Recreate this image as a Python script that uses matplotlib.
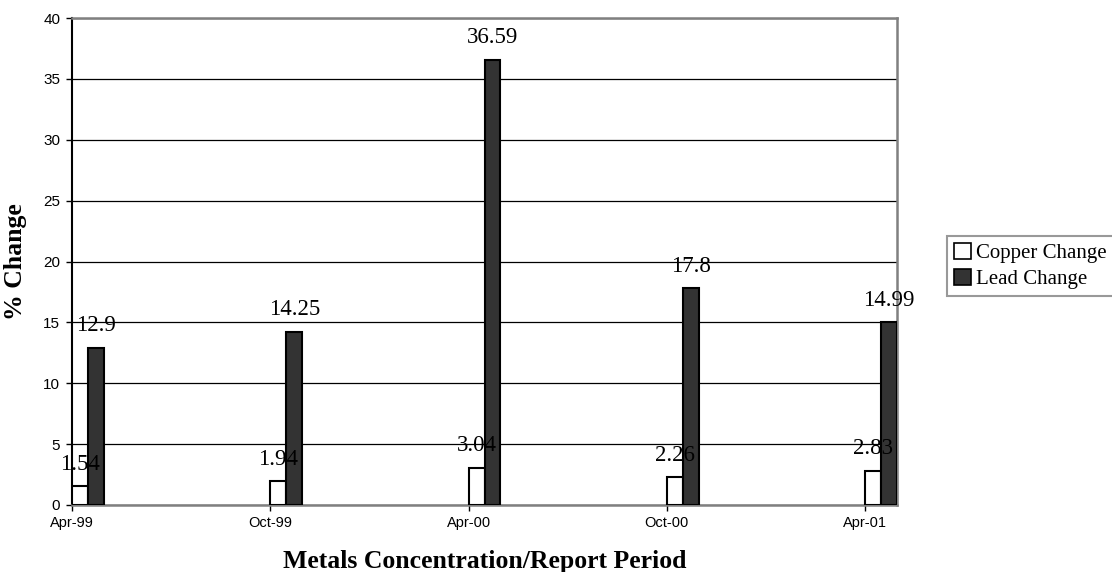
import numpy as np
import matplotlib
matplotlib.use('Agg')
import matplotlib.pyplot as plt
from matplotlib.patches import Patch

# Data
periods = ['Apr-99', 'Oct-99', 'Apr-00', 'Oct-00', 'Apr-01']
copper = [1.54, 1.94, 3.04, 2.26, 2.83]
lead = [12.9, 14.25, 36.59, 17.8, 14.99]

serif = 'Liberation Serif'
sans = 'Liberation Sans'

fig = plt.figure(figsize=(11.12, 5.72), dpi=100)
ax = fig.add_axes([72 / 1112, 1 - 505 / 572, (897 - 72) / 1112, (505 - 18) / 572])

x = np.arange(len(periods))
w = 0.0805

ax.bar(x, copper, width=w, align='edge', color='white', edgecolor='black', linewidth=1.5, zorder=3)
ax.bar(x + w, lead, width=w, align='edge', color='#333333', edgecolor='black', linewidth=1.5, zorder=3)

for xi, c, l in zip(x, copper, lead):
    ax.annotate(f'{c:g}', (xi + w / 2, c), xytext=(0, 12), textcoords='offset points',
                ha='center', va='baseline', fontsize=16.5, family=serif, zorder=4)
    ax.annotate(f'{l:g}', (xi + 1.5 * w, l), xytext=(0, 12), textcoords='offset points',
                ha='center', va='baseline', fontsize=16.5, family=serif, zorder=4)

ax.set_xlim(0, 4.161)
ax.set_ylim(0, 40)
ax.set_yticks(np.arange(0, 41, 5))
ax.set_xticks(x)
ax.set_xticklabels(periods, family=sans, fontsize=10.5)
for lab in ax.get_yticklabels():
    lab.set_family(sans)
    lab.set_fontsize(11)

ax.yaxis.grid(True, color='black', linewidth=0.9, zorder=0)
ax.set_axisbelow(True)
ax.tick_params(axis='y', direction='out', length=4, width=1, color='black', pad=4.5)
ax.tick_params(axis='x', direction='out', length=4, width=1, color='black', pad=4)

ax.spines['left'].set_color('black')
ax.spines['left'].set_linewidth(1.5)
for s in ['top', 'right', 'bottom']:
    ax.spines[s].set_color('#808080')
    ax.spines[s].set_linewidth(1.8)

ax.set_ylabel('% Change', family=serif, fontsize=18.5, fontweight='bold', labelpad=12)
ax.set_xlabel('Metals Concentration/Report Period', family=serif, fontsize=18.5,
              fontweight='bold', labelpad=14)

handles = [Patch(facecolor='white', edgecolor='black', linewidth=1.2),
           Patch(facecolor='#333333', edgecolor='black', linewidth=1.2)]
leg = fig.legend(handles, ['Copper Change', 'Lead Change'], loc='center right',
                 bbox_to_anchor=(1114 / 1112, 1 - 266 / 572), prop={'family': serif, 'size': 15},
                 handlelength=0.8, handleheight=0.8, handletextpad=0.25, labelspacing=0.25,
                 frameon=True, fancybox=False, borderaxespad=0, borderpad=0.35)
leg.get_frame().set_edgecolor('#808080')
leg.get_frame().set_linewidth(1.5)

fig.savefig('out.png', dpi=100)
